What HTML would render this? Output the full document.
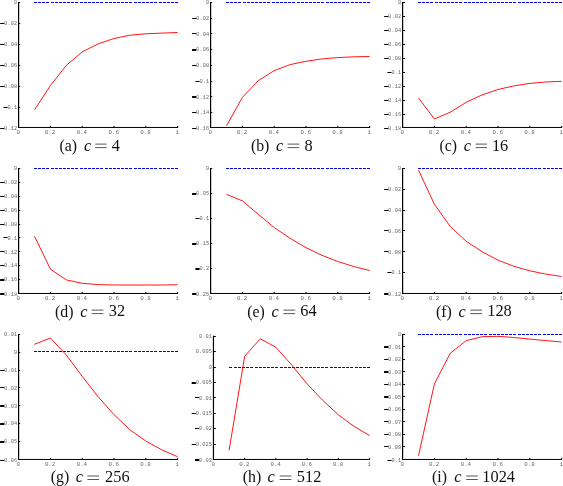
<!DOCTYPE html>
<html><head><meta charset="utf-8"><title>figure</title>
<style>
html,body{margin:0;padding:0;background:#fff;}
svg{display:block;}
text{will-change:opacity;}
.t{font-family:"Liberation Mono",monospace;font-size:5.30px;fill:#686868;letter-spacing:0.1px;}
.x{font-family:"Liberation Mono",monospace;font-size:5.75px;fill:#686868;}
.c{font-family:"Liberation Serif",serif;font-size:16.40px;fill:#111;}
.ci{font-family:"Liberation Serif",serif;font-style:italic;font-size:16.40px;fill:#111;}
</style></head>
<body>
<svg width="563" height="486" viewBox="0 0 563 486">
<rect x="0" y="0" width="563" height="486" fill="#ffffff"/>
<g id="chart-a">
<path d="M18.60 2.00V127.96" fill="none" stroke="#000" stroke-width="1.2"/>
<path d="M18.00 127.46H178.10" fill="none" stroke="#000" stroke-width="1.00"/>
<rect x="19.10" y="2" width="1.10" height="1" fill="#000"/>
<text class="t" x="17.24" y="4.25" text-anchor="end">0</text>
<rect x="19.10" y="23" width="1.10" height="1" fill="#000"/>
<text class="t" x="17.24" y="25.22" text-anchor="end">0.02</text>
<rect x="0.11" y="23" width="4.15" height="1" fill="#000"/>
<rect x="19.10" y="44" width="1.10" height="1" fill="#000"/>
<text class="t" x="17.24" y="46.19" text-anchor="end">0.04</text>
<rect x="0.11" y="44" width="4.15" height="1" fill="#000"/>
<rect x="19.10" y="65" width="1.10" height="1" fill="#000"/>
<text class="t" x="17.24" y="67.16" text-anchor="end">0.06</text>
<rect x="0.11" y="65" width="4.15" height="1" fill="#000"/>
<rect x="19.10" y="86" width="1.10" height="1" fill="#000"/>
<text class="t" x="17.24" y="88.12" text-anchor="end">0.08</text>
<rect x="0.11" y="86" width="4.15" height="1" fill="#000"/>
<rect x="19.10" y="107" width="1.10" height="1" fill="#000"/>
<text class="t" x="17.24" y="109.09" text-anchor="end">0.1</text>
<rect x="3.39" y="107" width="4.15" height="1" fill="#000"/>
<text class="t" x="17.24" y="130.06" text-anchor="end">0.12</text>
<rect x="0.11" y="128" width="4.15" height="1" fill="#000"/>
<text class="x" x="18.30" y="134.06" text-anchor="middle">0</text>
<path d="M50.40 127.46v-1.60" stroke="#000" stroke-width="1"/>
<text class="x" x="50.10" y="134.06" text-anchor="middle">0.2</text>
<path d="M82.20 127.46v-1.60" stroke="#000" stroke-width="1"/>
<text class="x" x="81.90" y="134.06" text-anchor="middle">0.4</text>
<path d="M114.00 127.46v-1.60" stroke="#000" stroke-width="1"/>
<text class="x" x="113.70" y="134.06" text-anchor="middle">0.6</text>
<path d="M145.80 127.46v-1.60" stroke="#000" stroke-width="1"/>
<text class="x" x="145.50" y="134.06" text-anchor="middle">0.8</text>
<path d="M177.60 127.46v-1.60" stroke="#000" stroke-width="1"/>
<text class="x" x="177.30" y="134.06" text-anchor="middle">1</text>
<path d="M33.90 2.50H178.20" stroke="#0000ff" stroke-width="1.15" stroke-dasharray="3 1.1544" fill="none" shape-rendering="crispEdges"/>
<path d="M34.50 110.00 L50.40 85.50 L66.30 65.40 L82.20 51.90 L98.10 43.90 L114.00 38.50 L129.90 35.20 L145.80 33.80 L161.70 33.10 L177.60 32.50" stroke="#ff0000" stroke-width="0.92" fill="none" stroke-linejoin="round" stroke-linecap="butt"/>
<text class="c" style="font-size:15.8px" x="59.40" y="150.50">(a)</text>
<text class="ci" x="83.90" y="150.50">c</text>
<path d="M95.20 144.10H106.60M95.20 147.60H106.60" stroke="#222" stroke-width="0.75" fill="none"/>
<text class="c" transform="translate(111.80 150.50) scale(1 0.955)">4</text>
</g>
<g id="chart-b">
<path d="M210.60 2.00V127.96" fill="none" stroke="#000" stroke-width="1.2"/>
<path d="M210.00 127.46H370.10" fill="none" stroke="#000" stroke-width="1.00"/>
<rect x="211.10" y="2" width="1.10" height="1" fill="#000"/>
<text class="t" x="209.24" y="4.25" text-anchor="end">0</text>
<rect x="211.10" y="18" width="1.10" height="1" fill="#000"/>
<text class="t" x="209.24" y="19.98" text-anchor="end">0.02</text>
<rect x="192.11" y="18" width="4.15" height="1" fill="#000"/>
<rect x="211.10" y="33" width="1.10" height="1" fill="#000"/>
<text class="t" x="209.24" y="35.70" text-anchor="end">0.04</text>
<rect x="192.11" y="33" width="4.15" height="1" fill="#000"/>
<rect x="211.10" y="49" width="1.10" height="1" fill="#000"/>
<text class="t" x="209.24" y="51.43" text-anchor="end">0.06</text>
<rect x="192.11" y="49" width="4.15" height="2" fill="#000"/>
<rect x="211.10" y="65" width="1.10" height="1" fill="#000"/>
<text class="t" x="209.24" y="67.16" text-anchor="end">0.08</text>
<rect x="192.11" y="65" width="4.15" height="1" fill="#000"/>
<rect x="211.10" y="81" width="1.10" height="1" fill="#000"/>
<text class="t" x="209.24" y="82.88" text-anchor="end">0.1</text>
<rect x="195.39" y="81" width="4.15" height="1" fill="#000"/>
<rect x="211.10" y="96" width="1.10" height="1" fill="#000"/>
<text class="t" x="209.24" y="98.61" text-anchor="end">0.12</text>
<rect x="192.11" y="96" width="4.15" height="2" fill="#000"/>
<rect x="211.10" y="112" width="1.10" height="1" fill="#000"/>
<text class="t" x="209.24" y="114.33" text-anchor="end">0.14</text>
<rect x="192.11" y="112" width="4.15" height="1" fill="#000"/>
<text class="t" x="209.24" y="130.06" text-anchor="end">0.16</text>
<rect x="192.11" y="128" width="4.15" height="1" fill="#000"/>
<text class="x" x="210.30" y="134.06" text-anchor="middle">0</text>
<path d="M242.40 127.46v-1.60" stroke="#000" stroke-width="1"/>
<text class="x" x="242.10" y="134.06" text-anchor="middle">0.2</text>
<path d="M274.20 127.46v-1.60" stroke="#000" stroke-width="1"/>
<text class="x" x="273.90" y="134.06" text-anchor="middle">0.4</text>
<path d="M306.00 127.46v-1.60" stroke="#000" stroke-width="1"/>
<text class="x" x="305.70" y="134.06" text-anchor="middle">0.6</text>
<path d="M337.80 127.46v-1.60" stroke="#000" stroke-width="1"/>
<text class="x" x="337.50" y="134.06" text-anchor="middle">0.8</text>
<path d="M369.60 127.46v-1.60" stroke="#000" stroke-width="1"/>
<text class="x" x="369.30" y="134.06" text-anchor="middle">1</text>
<path d="M225.90 2.50H370.20" stroke="#0000ff" stroke-width="1.15" stroke-dasharray="3 1.1544" fill="none" shape-rendering="crispEdges"/>
<path d="M226.50 125.80 L242.40 97.40 L258.30 80.70 L274.20 70.60 L290.10 64.60 L306.00 61.30 L321.90 58.90 L337.80 57.60 L353.70 56.80 L369.60 56.50" stroke="#ff0000" stroke-width="0.92" fill="none" stroke-linejoin="round" stroke-linecap="butt"/>
<text class="c" style="font-size:15.8px" x="250.90" y="150.50">(b)</text>
<text class="ci" x="276.00" y="150.50">c</text>
<path d="M287.60 144.10H299.20M287.60 147.60H299.20" stroke="#222" stroke-width="0.75" fill="none"/>
<text class="c" transform="translate(304.60 150.50) scale(1 0.955)">8</text>
</g>
<g id="chart-c">
<path d="M402.60 2.00V127.96" fill="none" stroke="#000" stroke-width="1.2"/>
<path d="M402.00 127.46H562.10" fill="none" stroke="#000" stroke-width="1.00"/>
<rect x="403.10" y="2" width="1.90" height="1" fill="#000"/>
<text class="t" x="401.24" y="4.25" text-anchor="end">0</text>
<rect x="403.10" y="16" width="1.90" height="1" fill="#000"/>
<text class="t" x="401.24" y="18.23" text-anchor="end">0.02</text>
<rect x="384.11" y="16" width="4.15" height="1" fill="#000"/>
<rect x="403.10" y="30" width="1.90" height="1" fill="#000"/>
<text class="t" x="401.24" y="32.21" text-anchor="end">0.04</text>
<rect x="384.11" y="30" width="4.15" height="1" fill="#000"/>
<rect x="403.10" y="44" width="1.90" height="1" fill="#000"/>
<text class="t" x="401.24" y="46.19" text-anchor="end">0.06</text>
<rect x="384.11" y="44" width="4.15" height="1" fill="#000"/>
<rect x="403.10" y="58" width="1.90" height="1" fill="#000"/>
<text class="t" x="401.24" y="60.17" text-anchor="end">0.08</text>
<rect x="384.11" y="58" width="4.15" height="1" fill="#000"/>
<rect x="403.10" y="72" width="1.90" height="1" fill="#000"/>
<text class="t" x="401.24" y="74.14" text-anchor="end">0.1</text>
<rect x="387.39" y="72" width="4.15" height="1" fill="#000"/>
<rect x="403.10" y="86" width="1.90" height="1" fill="#000"/>
<text class="t" x="401.24" y="88.12" text-anchor="end">0.12</text>
<rect x="384.11" y="86" width="4.15" height="1" fill="#000"/>
<rect x="403.10" y="100" width="1.90" height="1" fill="#000"/>
<text class="t" x="401.24" y="102.10" text-anchor="end">0.14</text>
<rect x="384.11" y="100" width="4.15" height="1" fill="#000"/>
<rect x="403.10" y="114" width="1.90" height="1" fill="#000"/>
<text class="t" x="401.24" y="116.08" text-anchor="end">0.16</text>
<rect x="384.11" y="114" width="4.15" height="1" fill="#000"/>
<text class="t" x="401.24" y="130.06" text-anchor="end">0.18</text>
<rect x="384.11" y="128" width="4.15" height="1" fill="#000"/>
<text class="x" x="402.30" y="134.06" text-anchor="middle">0</text>
<path d="M434.40 127.46v-1.60" stroke="#000" stroke-width="1"/>
<text class="x" x="434.10" y="134.06" text-anchor="middle">0.2</text>
<path d="M466.20 127.46v-1.60" stroke="#000" stroke-width="1"/>
<text class="x" x="465.90" y="134.06" text-anchor="middle">0.4</text>
<path d="M498.00 127.46v-1.60" stroke="#000" stroke-width="1"/>
<text class="x" x="497.70" y="134.06" text-anchor="middle">0.6</text>
<path d="M529.80 127.46v-1.60" stroke="#000" stroke-width="1"/>
<text class="x" x="529.50" y="134.06" text-anchor="middle">0.8</text>
<path d="M561.60 127.46v-1.60" stroke="#000" stroke-width="1"/>
<text class="x" x="561.30" y="134.06" text-anchor="middle">1</text>
<path d="M417.90 2.50H562.20" stroke="#0000ff" stroke-width="1.15" stroke-dasharray="3 1.1544" fill="none" shape-rendering="crispEdges"/>
<path d="M418.50 98.00 L434.40 119.00 L450.30 112.20 L466.20 102.30 L482.10 94.90 L498.00 89.50 L513.90 85.90 L529.80 83.40 L545.70 82.00 L561.60 81.30" stroke="#ff0000" stroke-width="0.92" fill="none" stroke-linejoin="round" stroke-linecap="butt"/>
<text class="c" style="font-size:15.8px" x="439.40" y="150.50">(c)</text>
<text class="ci" x="463.80" y="150.50">c</text>
<path d="M475.60 144.10H487.00M475.60 147.60H487.00" stroke="#222" stroke-width="0.75" fill="none"/>
<text class="c" transform="translate(491.90 150.50) scale(1 0.955)">16</text>
</g>
<g id="chart-d">
<path d="M18.60 168.00V293.96" fill="none" stroke="#000" stroke-width="1.2"/>
<path d="M18.00 293.46H178.10" fill="none" stroke="#000" stroke-width="1.00"/>
<rect x="19.10" y="168" width="1.10" height="1" fill="#000"/>
<text class="t" x="17.24" y="170.25" text-anchor="end">0</text>
<rect x="19.10" y="182" width="1.10" height="1" fill="#000"/>
<text class="t" x="17.24" y="184.13" text-anchor="end">0.02</text>
<rect x="0.11" y="182" width="4.15" height="1" fill="#000"/>
<rect x="19.10" y="196" width="1.10" height="1" fill="#000"/>
<text class="t" x="17.24" y="198.02" text-anchor="end">0.04</text>
<rect x="0.11" y="196" width="4.15" height="1" fill="#000"/>
<rect x="19.10" y="210" width="1.10" height="1" fill="#000"/>
<text class="t" x="17.24" y="211.90" text-anchor="end">0.06</text>
<rect x="0.11" y="210" width="4.15" height="1" fill="#000"/>
<rect x="19.10" y="224" width="1.10" height="1" fill="#000"/>
<text class="t" x="17.24" y="225.79" text-anchor="end">0.08</text>
<rect x="0.11" y="224" width="4.15" height="1" fill="#000"/>
<rect x="19.10" y="237" width="1.10" height="1" fill="#000"/>
<text class="t" x="17.24" y="239.67" text-anchor="end">0.1</text>
<rect x="3.39" y="237" width="4.15" height="1" fill="#000"/>
<rect x="19.10" y="251" width="1.10" height="1" fill="#000"/>
<text class="t" x="17.24" y="253.56" text-anchor="end">0.12</text>
<rect x="0.11" y="251" width="4.15" height="1" fill="#000"/>
<rect x="19.10" y="265" width="1.10" height="1" fill="#000"/>
<text class="t" x="17.24" y="267.44" text-anchor="end">0.14</text>
<rect x="0.11" y="265" width="4.15" height="1" fill="#000"/>
<rect x="19.10" y="279" width="1.10" height="1" fill="#000"/>
<text class="t" x="17.24" y="281.33" text-anchor="end">0.16</text>
<rect x="0.11" y="279" width="4.15" height="2" fill="#000"/>
<text class="t" x="17.24" y="296.01" text-anchor="end">0.18</text>
<rect x="0.11" y="293" width="4.15" height="2" fill="#000"/>
<text class="x" x="18.30" y="300.06" text-anchor="middle">0</text>
<path d="M50.40 293.46v-1.60" stroke="#000" stroke-width="1"/>
<text class="x" x="50.10" y="300.06" text-anchor="middle">0.2</text>
<path d="M82.20 293.46v-1.60" stroke="#000" stroke-width="1"/>
<text class="x" x="81.90" y="300.06" text-anchor="middle">0.4</text>
<path d="M114.00 293.46v-1.60" stroke="#000" stroke-width="1"/>
<text class="x" x="113.70" y="300.06" text-anchor="middle">0.6</text>
<path d="M145.80 293.46v-1.60" stroke="#000" stroke-width="1"/>
<text class="x" x="145.50" y="300.06" text-anchor="middle">0.8</text>
<path d="M177.60 293.46v-1.60" stroke="#000" stroke-width="1"/>
<text class="x" x="177.30" y="300.06" text-anchor="middle">1</text>
<path d="M33.90 168.50H178.20" stroke="#0000ff" stroke-width="1.15" stroke-dasharray="3 1.1544" fill="none" shape-rendering="crispEdges"/>
<path d="M34.50 236.20 L50.40 269.10 L66.30 279.90 L82.20 283.30 L98.10 284.60 L114.00 285.00 L129.90 285.00 L145.80 285.00 L161.70 285.00 L177.60 284.70" stroke="#ff0000" stroke-width="0.92" fill="none" stroke-linejoin="round" stroke-linecap="butt"/>
<text class="c" style="font-size:15.8px" x="55.00" y="316.50">(d)</text>
<text class="ci" x="80.20" y="316.50">c</text>
<path d="M91.60 310.10H103.40M91.60 313.60H103.40" stroke="#222" stroke-width="0.75" fill="none"/>
<text class="c" transform="translate(108.80 316.50) scale(1 0.955)">32</text>
</g>
<g id="chart-e">
<path d="M210.60 168.00V293.96" fill="none" stroke="#000" stroke-width="1.2"/>
<path d="M210.00 293.46H370.10" fill="none" stroke="#000" stroke-width="1.00"/>
<rect x="211.10" y="168" width="1.10" height="1" fill="#000"/>
<text class="t" x="209.24" y="170.25" text-anchor="end">0</text>
<rect x="211.10" y="193" width="1.10" height="1" fill="#000"/>
<text class="t" x="209.24" y="195.24" text-anchor="end">0.05</text>
<rect x="192.11" y="193" width="4.15" height="2" fill="#000"/>
<rect x="211.10" y="218" width="1.10" height="1" fill="#000"/>
<text class="t" x="209.24" y="220.23" text-anchor="end">0.1</text>
<rect x="195.39" y="218" width="4.15" height="1" fill="#000"/>
<rect x="211.10" y="243" width="1.10" height="1" fill="#000"/>
<text class="t" x="209.24" y="245.23" text-anchor="end">0.15</text>
<rect x="192.11" y="243" width="4.15" height="2" fill="#000"/>
<rect x="211.10" y="268" width="1.10" height="1" fill="#000"/>
<text class="t" x="209.24" y="270.22" text-anchor="end">0.2</text>
<rect x="195.39" y="268" width="4.15" height="2" fill="#000"/>
<text class="t" x="209.24" y="296.01" text-anchor="end">0.25</text>
<rect x="192.11" y="293" width="4.15" height="2" fill="#000"/>
<text class="x" x="210.30" y="300.06" text-anchor="middle">0</text>
<path d="M242.40 293.46v-1.60" stroke="#000" stroke-width="1"/>
<text class="x" x="242.10" y="300.06" text-anchor="middle">0.2</text>
<path d="M274.20 293.46v-1.60" stroke="#000" stroke-width="1"/>
<text class="x" x="273.90" y="300.06" text-anchor="middle">0.4</text>
<path d="M306.00 293.46v-1.60" stroke="#000" stroke-width="1"/>
<text class="x" x="305.70" y="300.06" text-anchor="middle">0.6</text>
<path d="M337.80 293.46v-1.60" stroke="#000" stroke-width="1"/>
<text class="x" x="337.50" y="300.06" text-anchor="middle">0.8</text>
<path d="M369.60 293.46v-1.60" stroke="#000" stroke-width="1"/>
<text class="x" x="369.30" y="300.06" text-anchor="middle">1</text>
<path d="M225.90 168.50H370.20" stroke="#0000ff" stroke-width="1.15" stroke-dasharray="3 1.1544" fill="none" shape-rendering="crispEdges"/>
<path d="M226.50 194.30 L242.40 200.90 L258.30 214.30 L274.20 227.50 L290.10 238.30 L306.00 247.70 L321.90 255.30 L337.80 261.50 L353.70 266.50 L369.60 270.50" stroke="#ff0000" stroke-width="0.92" fill="none" stroke-linejoin="round" stroke-linecap="butt"/>
<text class="c" style="font-size:15.8px" x="247.30" y="316.50">(e)</text>
<text class="ci" x="271.60" y="316.50">c</text>
<path d="M283.40 310.10H295.20M283.40 313.60H295.20" stroke="#222" stroke-width="0.75" fill="none"/>
<text class="c" transform="translate(300.20 316.50) scale(1 0.955)">64</text>
</g>
<g id="chart-f">
<path d="M402.60 168.00V293.96" fill="none" stroke="#000" stroke-width="1.2"/>
<path d="M402.00 293.46H562.10" fill="none" stroke="#000" stroke-width="1.00"/>
<rect x="403.10" y="168" width="1.90" height="1" fill="#000"/>
<text class="t" x="401.24" y="170.25" text-anchor="end">0</text>
<rect x="403.10" y="189" width="1.90" height="1" fill="#000"/>
<text class="t" x="401.24" y="191.08" text-anchor="end">0.02</text>
<rect x="384.11" y="189" width="4.15" height="1" fill="#000"/>
<rect x="403.10" y="210" width="1.90" height="1" fill="#000"/>
<text class="t" x="401.24" y="211.90" text-anchor="end">0.04</text>
<rect x="384.11" y="210" width="4.15" height="1" fill="#000"/>
<rect x="403.10" y="230" width="1.90" height="1" fill="#000"/>
<text class="t" x="401.24" y="232.73" text-anchor="end">0.06</text>
<rect x="384.11" y="230" width="4.15" height="1" fill="#000"/>
<rect x="403.10" y="251" width="1.90" height="1" fill="#000"/>
<text class="t" x="401.24" y="253.56" text-anchor="end">0.08</text>
<rect x="384.11" y="251" width="4.15" height="1" fill="#000"/>
<rect x="403.10" y="272" width="1.90" height="1" fill="#000"/>
<text class="t" x="401.24" y="274.38" text-anchor="end">0.1</text>
<rect x="387.39" y="272" width="4.15" height="1" fill="#000"/>
<text class="t" x="401.24" y="296.01" text-anchor="end">0.12</text>
<rect x="384.11" y="293" width="4.15" height="2" fill="#000"/>
<text class="x" x="402.30" y="300.06" text-anchor="middle">0</text>
<path d="M434.40 293.46v-1.60" stroke="#000" stroke-width="1"/>
<text class="x" x="434.10" y="300.06" text-anchor="middle">0.2</text>
<path d="M466.20 293.46v-1.60" stroke="#000" stroke-width="1"/>
<text class="x" x="465.90" y="300.06" text-anchor="middle">0.4</text>
<path d="M498.00 293.46v-1.60" stroke="#000" stroke-width="1"/>
<text class="x" x="497.70" y="300.06" text-anchor="middle">0.6</text>
<path d="M529.80 293.46v-1.60" stroke="#000" stroke-width="1"/>
<text class="x" x="529.50" y="300.06" text-anchor="middle">0.8</text>
<path d="M561.60 293.46v-1.60" stroke="#000" stroke-width="1"/>
<text class="x" x="561.30" y="300.06" text-anchor="middle">1</text>
<path d="M417.90 168.50H562.20" stroke="#0000ff" stroke-width="1.15" stroke-dasharray="3 1.1544" fill="none" shape-rendering="crispEdges"/>
<path d="M418.50 170.20 L434.40 204.30 L450.30 226.50 L466.20 241.30 L482.10 251.70 L498.00 260.20 L513.90 266.30 L529.80 270.80 L545.70 274.10 L561.60 276.50" stroke="#ff0000" stroke-width="0.92" fill="none" stroke-linejoin="round" stroke-linecap="butt"/>
<text class="c" style="font-size:15.8px" x="436.00" y="316.50">(f)</text>
<text class="ci" x="458.60" y="316.50">c</text>
<path d="M470.30 310.10H482.00M470.30 313.60H482.00" stroke="#222" stroke-width="0.75" fill="none"/>
<text class="c" transform="translate(487.20 316.50) scale(1 0.955)">128</text>
</g>
<g id="chart-g">
<path d="M18.60 334.00V459.96" fill="none" stroke="#000" stroke-width="1.2"/>
<path d="M18.00 459.46H178.10" fill="none" stroke="#000" stroke-width="1.00"/>
<rect x="19.10" y="334" width="1.10" height="1" fill="#000"/>
<text class="t" x="17.24" y="336.00" text-anchor="end">0.01</text>
<rect x="19.10" y="352" width="1.10" height="1" fill="#000"/>
<text class="t" x="17.24" y="353.89" text-anchor="end">0</text>
<rect x="19.10" y="370" width="1.10" height="1" fill="#000"/>
<text class="t" x="17.24" y="371.77" text-anchor="end">0.01</text>
<rect x="0.11" y="370" width="4.15" height="1" fill="#000"/>
<rect x="19.10" y="387" width="1.10" height="1" fill="#000"/>
<text class="t" x="17.24" y="389.66" text-anchor="end">0.02</text>
<rect x="0.11" y="387" width="4.15" height="1" fill="#000"/>
<rect x="19.10" y="405" width="1.10" height="1" fill="#000"/>
<text class="t" x="17.24" y="407.55" text-anchor="end">0.03</text>
<rect x="0.11" y="405" width="4.15" height="2" fill="#000"/>
<rect x="19.10" y="423" width="1.10" height="1" fill="#000"/>
<text class="t" x="17.24" y="425.44" text-anchor="end">0.04</text>
<rect x="0.11" y="423" width="4.15" height="2" fill="#000"/>
<rect x="19.10" y="441" width="1.10" height="1" fill="#000"/>
<text class="t" x="17.24" y="443.32" text-anchor="end">0.05</text>
<rect x="0.11" y="441" width="4.15" height="2" fill="#000"/>
<text class="t" x="17.24" y="462.01" text-anchor="end">0.06</text>
<rect x="0.11" y="460" width="4.15" height="1" fill="#000"/>
<text class="x" x="18.30" y="466.06" text-anchor="middle">0</text>
<path d="M50.40 459.46v-1.60" stroke="#000" stroke-width="1"/>
<text class="x" x="50.10" y="466.06" text-anchor="middle">0.2</text>
<path d="M82.20 459.46v-1.60" stroke="#000" stroke-width="1"/>
<text class="x" x="81.90" y="466.06" text-anchor="middle">0.4</text>
<path d="M114.00 459.46v-1.60" stroke="#000" stroke-width="1"/>
<text class="x" x="113.70" y="466.06" text-anchor="middle">0.6</text>
<path d="M145.80 459.46v-1.60" stroke="#000" stroke-width="1"/>
<text class="x" x="145.50" y="466.06" text-anchor="middle">0.8</text>
<path d="M177.60 459.46v-1.60" stroke="#000" stroke-width="1"/>
<text class="x" x="177.30" y="466.06" text-anchor="middle">1</text>
<path d="M33.90 351.50H178.20" stroke="#0000ff" stroke-width="1.15" stroke-dasharray="3 1.1544" fill="none" shape-rendering="crispEdges"/>
<path d="M34.50 344.30 L50.40 338.00 L66.30 355.00 L82.20 376.30 L98.10 396.70 L114.00 414.70 L129.90 429.80 L145.80 441.00 L161.70 449.80 L177.60 456.70" stroke="#ff0000" stroke-width="0.92" fill="none" stroke-linejoin="round" stroke-linecap="butt"/>
<text class="c" style="font-size:15.8px" x="50.80" y="482.40">(g)</text>
<text class="ci" x="75.70" y="482.40">c</text>
<path d="M87.40 476.00H99.10M87.40 479.50H99.10" stroke="#222" stroke-width="0.75" fill="none"/>
<text class="c" transform="translate(105.00 482.40) scale(1 0.955)">256</text>
</g>
<g id="chart-h">
<path d="M213.45 335.70V459.96" fill="none" stroke="#000" stroke-width="1.2"/>
<path d="M212.85 459.46H370.10" fill="none" stroke="#000" stroke-width="1.00"/>
<rect x="213.95" y="336" width="1.90" height="1" fill="#000"/>
<text class="t" x="212.09" y="337.95" text-anchor="end">0.01</text>
<rect x="213.95" y="351" width="1.90" height="1" fill="#000"/>
<text class="t" x="212.09" y="353.36" text-anchor="end">0.005</text>
<rect x="213.95" y="367" width="1.90" height="1" fill="#000"/>
<text class="t" x="212.09" y="368.76" text-anchor="end">0</text>
<rect x="213.95" y="382" width="1.90" height="1" fill="#000"/>
<text class="t" x="212.09" y="384.17" text-anchor="end">0.005</text>
<rect x="191.68" y="382" width="4.15" height="2" fill="#000"/>
<rect x="213.95" y="397" width="1.90" height="1" fill="#000"/>
<text class="t" x="212.09" y="399.58" text-anchor="end">0.01</text>
<rect x="194.96" y="397" width="4.15" height="1" fill="#000"/>
<rect x="213.95" y="413" width="1.90" height="1" fill="#000"/>
<text class="t" x="212.09" y="414.99" text-anchor="end">0.015</text>
<rect x="191.68" y="413" width="4.15" height="1" fill="#000"/>
<rect x="213.95" y="428" width="1.90" height="1" fill="#000"/>
<text class="t" x="212.09" y="430.39" text-anchor="end">0.02</text>
<rect x="194.96" y="428" width="4.15" height="1" fill="#000"/>
<rect x="213.95" y="444" width="1.90" height="1" fill="#000"/>
<text class="t" x="212.09" y="445.80" text-anchor="end">0.025</text>
<rect x="191.68" y="444" width="4.15" height="1" fill="#000"/>
<text class="t" x="212.09" y="462.01" text-anchor="end">0.03</text>
<rect x="194.96" y="459" width="4.15" height="2" fill="#000"/>
<text class="x" x="213.15" y="466.06" text-anchor="middle">0</text>
<path d="M244.68 459.46v-1.60" stroke="#000" stroke-width="1"/>
<text class="x" x="244.38" y="466.06" text-anchor="middle">0.2</text>
<path d="M275.91 459.46v-1.60" stroke="#000" stroke-width="1"/>
<text class="x" x="275.61" y="466.06" text-anchor="middle">0.4</text>
<path d="M307.14 459.46v-1.60" stroke="#000" stroke-width="1"/>
<text class="x" x="306.84" y="466.06" text-anchor="middle">0.6</text>
<path d="M338.37 459.46v-1.60" stroke="#000" stroke-width="1"/>
<text class="x" x="338.07" y="466.06" text-anchor="middle">0.8</text>
<path d="M369.60 459.46v-1.60" stroke="#000" stroke-width="1"/>
<text class="x" x="369.30" y="466.06" text-anchor="middle">1</text>
<path d="M229.47 367.50H370.20" stroke="#0000ff" stroke-width="1.15" stroke-dasharray="3 1.1723" fill="none" shape-rendering="crispEdges"/>
<path d="M229.06 450.50 L244.68 356.30 L260.30 338.80 L275.91 347.30 L291.52 364.80 L307.14 383.90 L322.75 400.40 L338.37 414.80 L353.99 426.30 L369.60 435.60" stroke="#ff0000" stroke-width="0.92" fill="none" stroke-linejoin="round" stroke-linecap="butt"/>
<text class="c" style="font-size:15.8px" x="242.80" y="482.40">(h)</text>
<text class="ci" x="267.50" y="482.40">c</text>
<path d="M279.70 476.00H291.40M279.70 479.50H291.40" stroke="#222" stroke-width="0.75" fill="none"/>
<text class="c" transform="translate(296.80 482.40) scale(1 0.955)">512</text>
</g>
<g id="chart-i">
<path d="M402.60 334.00V459.96" fill="none" stroke="#000" stroke-width="1.2"/>
<path d="M402.00 459.46H562.10" fill="none" stroke="#000" stroke-width="1.00"/>
<rect x="403.10" y="334" width="1.90" height="1" fill="#000"/>
<text class="t" x="401.24" y="336.25" text-anchor="end">0</text>
<rect x="403.10" y="346" width="1.90" height="1" fill="#000"/>
<text class="t" x="401.24" y="348.75" text-anchor="end">0.01</text>
<rect x="384.11" y="346" width="4.15" height="2" fill="#000"/>
<rect x="403.10" y="359" width="1.90" height="1" fill="#000"/>
<text class="t" x="401.24" y="361.24" text-anchor="end">0.02</text>
<rect x="384.11" y="359" width="4.15" height="1" fill="#000"/>
<rect x="403.10" y="371" width="1.90" height="1" fill="#000"/>
<text class="t" x="401.24" y="373.74" text-anchor="end">0.03</text>
<rect x="384.11" y="371" width="4.15" height="2" fill="#000"/>
<rect x="403.10" y="384" width="1.90" height="1" fill="#000"/>
<text class="t" x="401.24" y="386.23" text-anchor="end">0.04</text>
<rect x="384.11" y="384" width="4.15" height="1" fill="#000"/>
<rect x="403.10" y="396" width="1.90" height="1" fill="#000"/>
<text class="t" x="401.24" y="398.73" text-anchor="end">0.05</text>
<rect x="384.11" y="396" width="4.15" height="2" fill="#000"/>
<rect x="403.10" y="409" width="1.90" height="1" fill="#000"/>
<text class="t" x="401.24" y="411.23" text-anchor="end">0.06</text>
<rect x="384.11" y="409" width="4.15" height="1" fill="#000"/>
<rect x="403.10" y="421" width="1.90" height="1" fill="#000"/>
<text class="t" x="401.24" y="423.72" text-anchor="end">0.07</text>
<rect x="384.11" y="421" width="4.15" height="1" fill="#000"/>
<rect x="403.10" y="434" width="1.90" height="1" fill="#000"/>
<text class="t" x="401.24" y="436.22" text-anchor="end">0.08</text>
<rect x="384.11" y="434" width="4.15" height="1" fill="#000"/>
<rect x="403.10" y="446" width="1.90" height="1" fill="#000"/>
<text class="t" x="401.24" y="448.71" text-anchor="end">0.09</text>
<rect x="384.11" y="446" width="4.15" height="1" fill="#000"/>
<text class="t" x="401.24" y="462.01" text-anchor="end">0.1</text>
<rect x="387.39" y="460" width="4.15" height="1" fill="#000"/>
<text class="x" x="402.30" y="466.06" text-anchor="middle">0</text>
<path d="M434.40 459.46v-1.60" stroke="#000" stroke-width="1"/>
<text class="x" x="434.10" y="466.06" text-anchor="middle">0.2</text>
<path d="M466.20 459.46v-1.60" stroke="#000" stroke-width="1"/>
<text class="x" x="465.90" y="466.06" text-anchor="middle">0.4</text>
<path d="M498.00 459.46v-1.60" stroke="#000" stroke-width="1"/>
<text class="x" x="497.70" y="466.06" text-anchor="middle">0.6</text>
<path d="M529.80 459.46v-1.60" stroke="#000" stroke-width="1"/>
<text class="x" x="529.50" y="466.06" text-anchor="middle">0.8</text>
<path d="M561.60 459.46v-1.60" stroke="#000" stroke-width="1"/>
<text class="x" x="561.30" y="466.06" text-anchor="middle">1</text>
<path d="M417.90 334.50H562.20" stroke="#0000ff" stroke-width="1.15" stroke-dasharray="3 1.1544" fill="none" shape-rendering="crispEdges"/>
<path d="M418.50 455.80 L434.40 383.90 L450.30 353.20 L466.20 340.70 L482.10 336.70 L498.00 336.30 L513.90 337.50 L529.80 339.10 L545.70 340.60 L561.60 342.00" stroke="#ff0000" stroke-width="0.92" fill="none" stroke-linejoin="round" stroke-linecap="butt"/>
<text class="c" style="font-size:15.8px" x="432.00" y="482.40">(i)</text>
<text class="ci" x="454.20" y="482.40">c</text>
<path d="M466.20 476.00H477.80M466.20 479.50H477.80" stroke="#222" stroke-width="0.75" fill="none"/>
<text class="c" transform="translate(482.30 482.40) scale(1 0.955)">1024</text>
</g>
</svg>
</body></html>
